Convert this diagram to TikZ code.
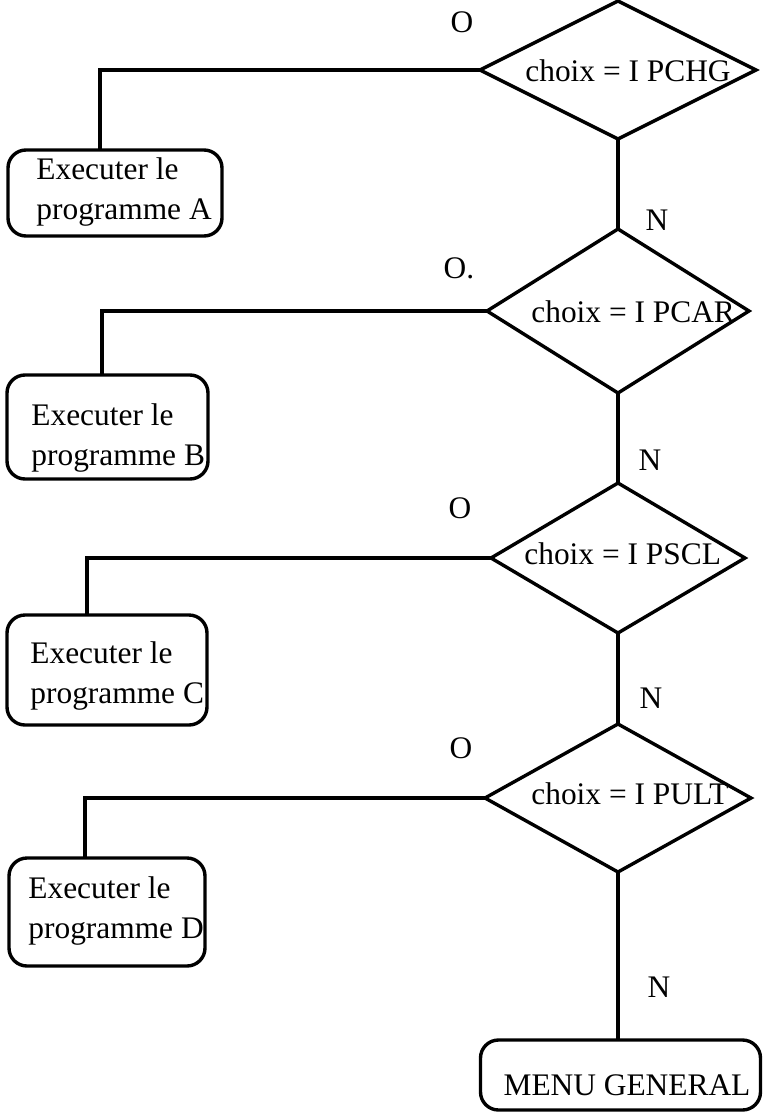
\documentclass[tikz,border=0pt]{standalone}
\usepackage{fontspec}
\setmainfont{Liberation Serif}
\usetikzlibrary{shapes.geometric}
\begin{document}
\begin{tikzpicture}[x=0.5pt,y=-0.5pt,
  every node/.style={font=\fontsize{15.7}{20}\selectfont},
  test/.style={draw, line width=1.7pt, diamond, inner sep=0pt, outer sep=0pt},
  box/.style={draw, line width=1.7pt, rounded corners=9pt, inner sep=0pt, outer sep=0pt},
  lbl/.style={inner sep=0pt},
  link/.style={line width=1.6pt}]
\useasboundingbox (0,0) rectangle (763,1114);

% decision diamonds
\node[test, minimum width=138pt, minimum height=69pt] (d1) at (618,70) {};
\node[test, minimum width=131pt, minimum height=82pt] (d2) at (618,311) {};
\node[test, minimum width=127pt, minimum height=75pt] (d3) at (618,558) {};
\node[test, minimum width=133pt, minimum height=74pt] (d4) at (618,798) {};

\node[lbl, anchor=base west] (c1) at (525,81) {choix = I PCHG};
\node[lbl, anchor=base west] (c2) at (531,322) {choix = I PCAR};
\node[lbl, anchor=base west] (c3) at (524,564) {choix = I PSCL};
\node[lbl, anchor=base west] (c4) at (531,804) {choix = I PULT};

% program boxes
\node[box, minimum width=107pt, minimum height=43pt] (bA) at (115,193) {};
\node[box, minimum width=100.5pt, minimum height=52pt] (bB) at (107.5,427) {};
\node[box, minimum width=100pt, minimum height=55pt] (bC) at (107,670) {};
\node[box, minimum width=98pt, minimum height=54pt] (bD) at (107,912) {};
\node[box, minimum width=140pt, minimum height=35pt] (menu) at (620.5,1075) {};

% box texts (anchored on the baseline of their last line)
\node[lbl, anchor=base west, align=left] (tA) at (36,219) {Executer le\\programme A};
\node[lbl, anchor=base west, align=left] (tB) at (31,465) {Executer le\\programme B};
\node[lbl, anchor=base west, align=left] (tC) at (30,703) {Executer le\\programme C};
\node[lbl, anchor=base west, align=left] (tD) at (28,938) {Executer le\\programme D};
\node[lbl, anchor=base] (tM) at (627,1095) {MENU GENERAL};

% yes branches
\draw[link] (d1.west) -| ([xshift=-7.5pt]bA.north);
\draw[link] (d2.west) -| ([xshift=-2.75pt]bB.north);
\draw[link] (d3.west) -| ([xshift=-10pt]bC.north);
\draw[link] (d4.west) -| ([xshift=-11pt]bD.north);

% no branches
\draw[link] (d1.south) -- (d2.north);
\draw[link] (d2.south) -- (d3.north);
\draw[link] (d3.south) -- (d4.north);
\draw[link] (d4.south) -- (d4.south |- menu.north);

% branch labels
\node[lbl] (o1) at (462,22) {O};
\node[lbl] (o2) at (459,268) {O.};
\node[lbl] (o3) at (460,508) {O};
\node[lbl] (o4) at (461,748) {O};
\node[lbl] (n1) at (657,220) {N};
\node[lbl] (n2) at (650,460) {N};
\node[lbl] (n3) at (651,698) {N};
\node[lbl] (n4) at (659,987) {N};
\end{tikzpicture}
\end{document}
